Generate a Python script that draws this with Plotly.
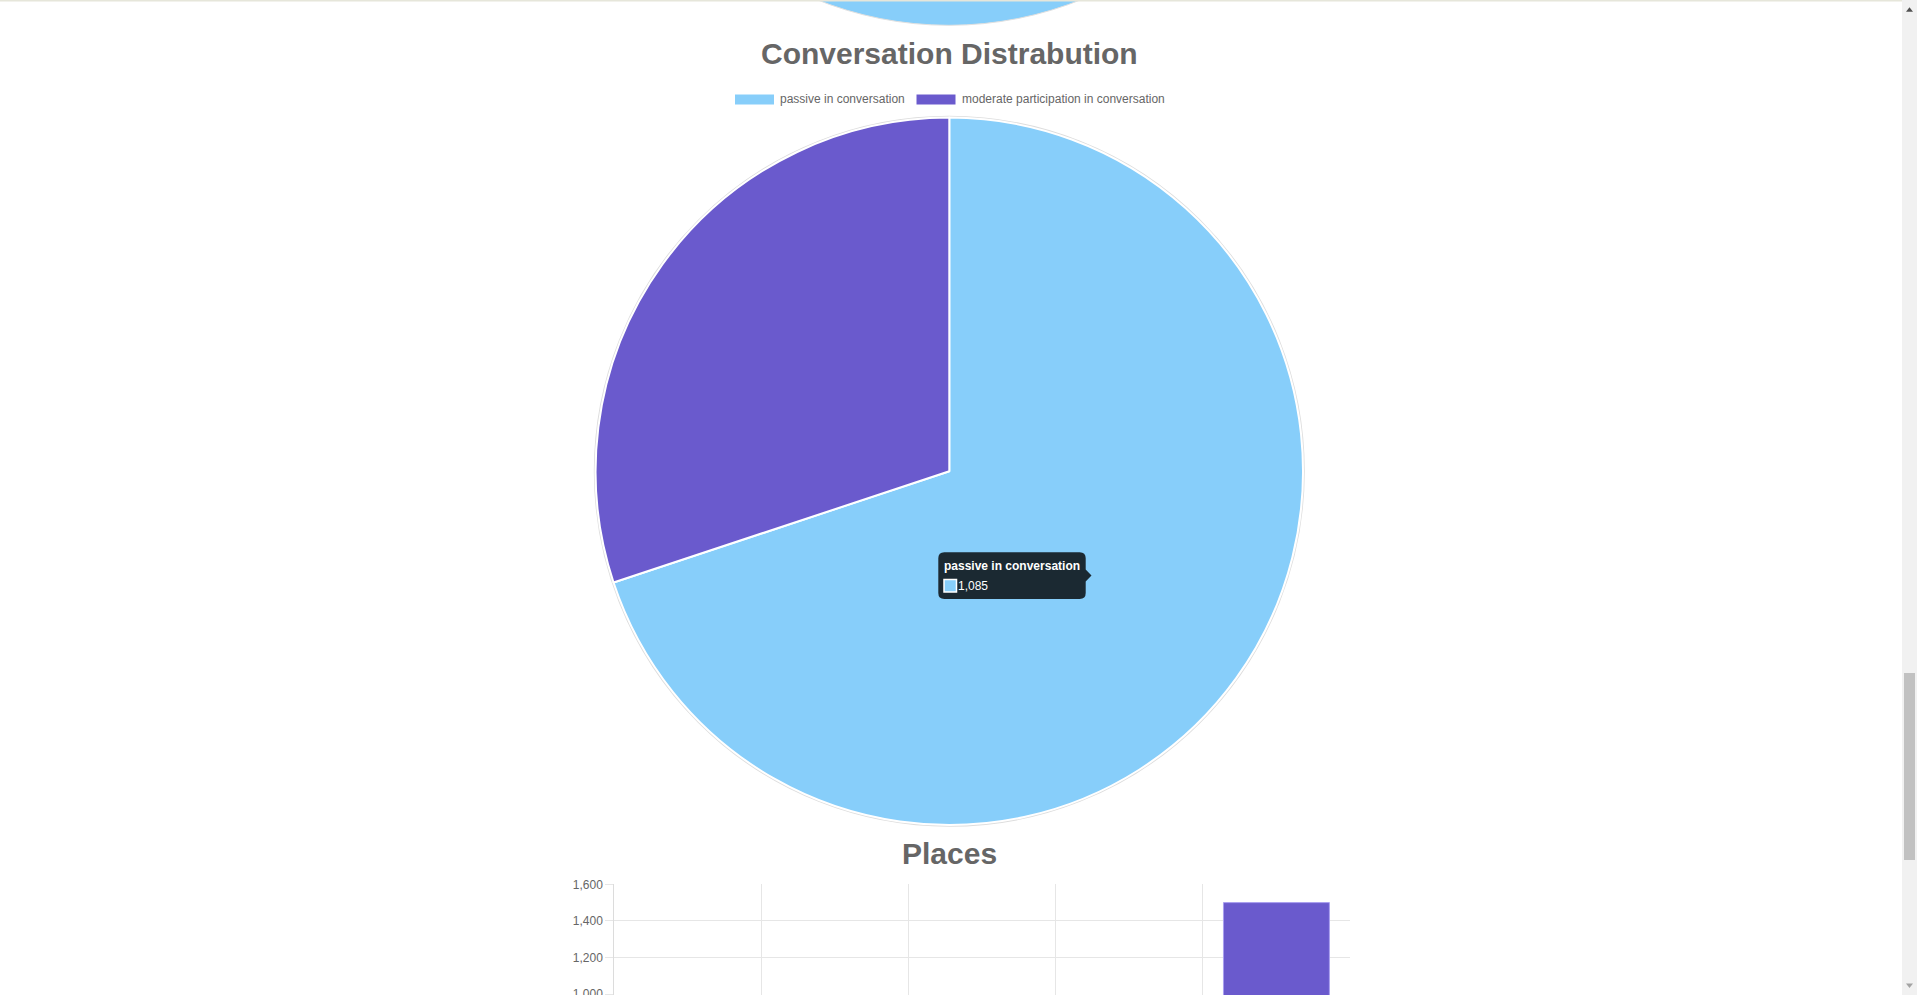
import plotly.graph_objects as go

W, H = 1917, 995

# ---------------- data ----------------
conv_labels = ["passive in conversation", "moderate participation in conversation"]
conv_values = [1085, 467]
conv_colors = ["#87cefa", "#6a5acd"]

places_labels = ["Place 1", "Place 2", "Place 3", "Place 4", "Place 5"]
places_values = [None, None, None, None, 1500]

y_ticks = [1000, 1200, 1400, 1600]

# ---------------- helpers ----------------
def px(x):
    return x / W

def py(y):
    return 1 - y / H

FONT = "Liberation Sans, Arial, Helvetica, sans-serif"
GREY = "#666666"

fig = go.Figure()

# main pie
cx, cy, r = 949.3, 471.3, 353.7
fig.add_trace(go.Pie(
    labels=conv_labels,
    values=conv_values,
    marker=dict(colors=conv_colors, line=dict(color="#ffffff", width=2)),
    sort=False,
    direction="clockwise",
    rotation=0,
    textinfo="none",
    hoverinfo="label+value",
    showlegend=False,
    domain=dict(x=[px(cx - r), px(cx + r)], y=[py(cy + r), py(cy - r)]),
))

# bar chart "Places"
fig.add_trace(go.Bar(
    x=places_labels,
    y=places_values,
    marker=dict(color="#6a5acd", line=dict(color="#a99ff0", width=1)),
    showlegend=False,
    hoverinfo="x+y",
))

y_top_px, x_left_px, x_right_px = 884.3, 614.3, 1350.0
fig.update_layout(
    width=W, height=H,
    margin=dict(l=0, r=0, t=0, b=0),
    paper_bgcolor="white",
    plot_bgcolor="white",
    bargap=0.28,
    font=dict(family=FONT, color=GREY, size=12),
    xaxis=dict(
        domain=[px(x_left_px), px(x_right_px)],
        type="category",
        tickson="boundaries",
        showgrid=True, gridcolor="#e6e6e6", gridwidth=1,
        showline=False, zeroline=False,
        ticks="", showticklabels=False,
        automargin=False,
        fixedrange=True,
    ),
    yaxis=dict(
        domain=[0, py(y_top_px)],
        range=[995, 1600],
        tickvals=y_ticks,
        tickformat=",",
        ticks="outside", ticklen=8, tickcolor="#e6e6e6",
        ticklabeloverflow="allow",
        showgrid=True, gridcolor="#e6e6e6", gridwidth=1,
        showline=True, linecolor="#dcdcdc", linewidth=1,
        zeroline=False,
        tickfont=dict(family=FONT, size=12, color=GREY),
        automargin=False,
        fixedrange=True,
    ),
)

shapes = []
annotations = []

# top beige page line
shapes.append(dict(type="rect", xref="paper", yref="paper",
                   x0=0, x1=px(1902), y0=py(1.5), y1=1.0,
                   fillcolor="#e6e6da", line=dict(width=0), layer="above"))

# partial pie of the chart above (bottom edge visible)
tcx, tcy = 949.0, 25.3 - r
shapes.append(dict(type="circle", xref="paper", yref="paper",
                   x0=px(tcx - r), x1=px(tcx + r), y0=py(tcy + r), y1=py(tcy - r),
                   fillcolor="#87cefa", line=dict(color="#e0e0e0", width=1), layer="below"))

# grey outer rim of the main pie
rr = r + 0.8
shapes.append(dict(type="circle", xref="paper", yref="paper",
                   x0=px(cx - rr), x1=px(cx + rr), y0=py(cy + rr), y1=py(cy - rr),
                   fillcolor="rgba(0,0,0,0)", line=dict(color="#dddddd", width=2), layer="below"))

# titles
annotations.append(dict(text="<b>Conversation Distrabution</b>", x=px(949), y=py(53.5),
                        xref="paper", yref="paper", showarrow=False,
                        xanchor="center", yanchor="middle",
                        font=dict(family=FONT, size=30, color=GREY)))
annotations.append(dict(text="<b>Places</b>", x=px(949), y=py(853.5),
                        xref="paper", yref="paper", showarrow=False,
                        xanchor="center", yanchor="middle",
                        font=dict(family=FONT, size=30, color=GREY)))

# Chart.js style legend
legend_box_x = [734.5, 916.0]
for lbl, col, bx in zip(conv_labels, conv_colors, legend_box_x):
    shapes.append(dict(type="rect", xref="paper", yref="paper",
                       x0=px(bx), x1=px(bx + 40), y0=py(105), y1=py(94),
                       fillcolor=col, line=dict(color="#ffffff", width=1), layer="above"))
    annotations.append(dict(text=lbl, x=px(bx + 43.5), y=py(99.5),
                            xref="paper", yref="paper", showarrow=False,
                            xanchor="left", yanchor="middle",
                            font=dict(family=FONT, size=12, color=GREY)))

# tooltip
bx0, bx1, by0, by1, rad = 938.3, 1085.7, 552.3, 599.0, 6.0
tip_x, tip_y = 1091.5, 575.5
def P(x, y):
    return f"{px(x):.6f},{py(y):.6f}"
path = (
    f"M {P(bx0 + rad, by0)} L {P(bx1 - rad, by0)} Q {P(bx1, by0)} {P(bx1, by0 + rad)} "
    f"L {P(bx1, tip_y - 6)} L {P(tip_x, tip_y)} L {P(bx1, tip_y + 6)} "
    f"L {P(bx1, by1 - rad)} Q {P(bx1, by1)} {P(bx1 - rad, by1)} "
    f"L {P(bx0 + rad, by1)} Q {P(bx0, by1)} {P(bx0, by1 - rad)} "
    f"L {P(bx0, by0 + rad)} Q {P(bx0, by0)} {P(bx0 + rad, by0)} Z"
)
shapes.append(dict(type="path", xref="paper", yref="paper", path=path,
                   fillcolor="rgba(0,0,0,0.8)", line=dict(width=0), layer="above"))
annotations.append(dict(text=f"<b>{conv_labels[0]}</b>", x=px(941.5), y=py(565.5),
                        xref="paper", yref="paper", showarrow=False,
                        xanchor="left", yanchor="middle",
                        font=dict(family=FONT, size=12, color="#ffffff")))
shapes.append(dict(type="rect", xref="paper", yref="paper",
                   x0=px(944), x1=px(956.5), y0=py(592), y1=py(579.5),
                   fillcolor=conv_colors[0], line=dict(color="#ffffff", width=1.5), layer="above"))
annotations.append(dict(text=f"{conv_values[0]:,}", x=px(956), y=py(585.5),
                        xref="paper", yref="paper", showarrow=False,
                        xanchor="left", yanchor="middle",
                        font=dict(family=FONT, size=12, color="#ffffff")))

# browser scrollbar
shapes.append(dict(type="rect", xref="paper", yref="paper",
                   x0=px(1902), x1=1.0, y0=0, y1=1,
                   fillcolor="#f1f1f1", line=dict(width=0), layer="above"))
shapes.append(dict(type="rect", xref="paper", yref="paper",
                   x0=px(1904), x1=px(1915), y0=py(860), y1=py(673),
                   fillcolor="#c1c1c1", line=dict(width=0), layer="above"))
shapes.append(dict(type="path", xref="paper", yref="paper",
                   path=f"M {P(1906, 11.7)} L {P(1913, 11.7)} L {P(1909.5, 7.3)} Z",
                   fillcolor="#505050", line=dict(width=0), layer="above"))
shapes.append(dict(type="path", xref="paper", yref="paper",
                   path=f"M {P(1906, 983.5)} L {P(1913, 983.5)} L {P(1909.5, 988)} Z",
                   fillcolor="#a3a3a3", line=dict(width=0), layer="above"))

fig.update_layout(shapes=shapes, annotations=annotations)

fig.write_html("out.html", config=dict(displayModeBar=False))
